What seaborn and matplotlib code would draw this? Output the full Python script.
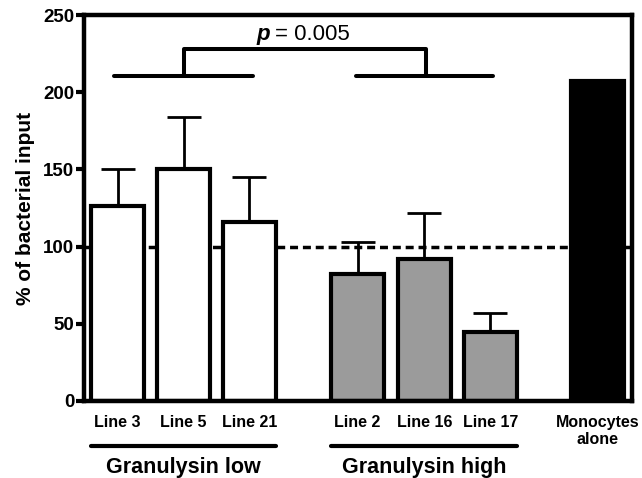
import matplotlib
matplotlib.use("Agg")
import matplotlib.pyplot as plt
import seaborn as sns
import pandas as pd
import numpy as np

# values
lines = ["Line 3", "Line 5", "Line 21", "Line 2", "Line 16", "Line 17", "Monocytes\nalone"]
xpos = [0, 1, 2, 3.64, 4.65, 5.65, 7.28]
means = [126, 150, 116, 82, 92, 45, 207]
sd = [24, 34, 29, 21, 30, 12, 0]
colors = ["white", "white", "white", "#9b9b9b", "#9b9b9b", "#9b9b9b", "black"]
groups = ["Granulysin low", "Granulysin high"]
group_span = [(-0.4, 2.4), (3.24, 6.05)]

sns.set_style("ticks", {"axes.edgecolor": "black", "xtick.color": "black",
                        "ytick.color": "black", "text.color": "black",
                        "axes.labelcolor": "black"})
plt.rcParams["font.family"] = ["Liberation Sans", "DejaVu Sans"]

df = pd.DataFrame({"x": xpos, "mean": means, "line": lines})

fig = plt.figure(figsize=(6.42, 4.78), dpi=100)
ax = fig.add_axes([0.1308, 0.1611, 0.8536, 0.8075])

# reference line at 100 %
ax.axhline(100, color="black", lw=2.5, ls=(0, (2.3, 1.4)), zorder=0)

sns.barplot(data=df, x="x", y="mean", hue="line", palette=dict(zip(lines, colors)),
            native_scale=True, dodge=False, errorbar=None, legend=False,
            edgecolor="black", linewidth=3.0, ax=ax, zorder=2)

# upper error bars only
ax.errorbar(xpos[:6], means[:6], yerr=[np.zeros(6), sd[:6]], fmt="none",
            ecolor="black", elinewidth=2.0, capsize=12, capthick=2.0, zorder=3)

ax.set_xlim(-0.51, 7.8)
ax.set_ylim(0, 250)
ax.set_yticks(range(0, 251, 50))
ax.set_xticks(xpos, lines)
ax.tick_params(axis="x", length=0, pad=10, labelsize=11.5)
ax.tick_params(axis="y", length=6, width=3, labelsize=13.5, pad=1)
for t in ax.get_xticklabels() + ax.get_yticklabels():
    t.set_fontweight("bold")
ax.set_xlabel("")
ax.set_ylabel("% of bacterial input", fontsize=15, fontweight="bold", labelpad=6)
for s in ax.spines.values():
    s.set_linewidth(3.2)
    s.set_visible(True)

# significance bracket
bw = 2.9
ax.plot([-0.05, 2.05], [210.5, 210.5], color="black", lw=bw, clip_on=False)
ax.plot([3.61, 5.69], [210.5, 210.5], color="black", lw=bw, clip_on=False)
ax.plot([1.0, 1.0, 4.67, 4.67], [210.5, 228, 228, 210.5], color="black", lw=bw,
        clip_on=False)
ax.text(2.31, 237.5, "p", fontsize=16, fontweight="bold", style="italic",
        ha="right", va="center")
ax.text(2.38, 237.5, "= 0.005", fontsize=16, ha="left", va="center")

# group underlines and labels
tr = ax.get_xaxis_transform()
for name, (a, b) in zip(groups, group_span):
    ax.plot([a, b], [-0.117, -0.117], color="black", lw=3.0, transform=tr,
            clip_on=False)
    ax.text((a + b) / 2, -0.172, name, transform=tr, ha="center", va="center",
            fontsize=15.5, fontweight="bold")

fig.savefig("out.png", dpi=100)
